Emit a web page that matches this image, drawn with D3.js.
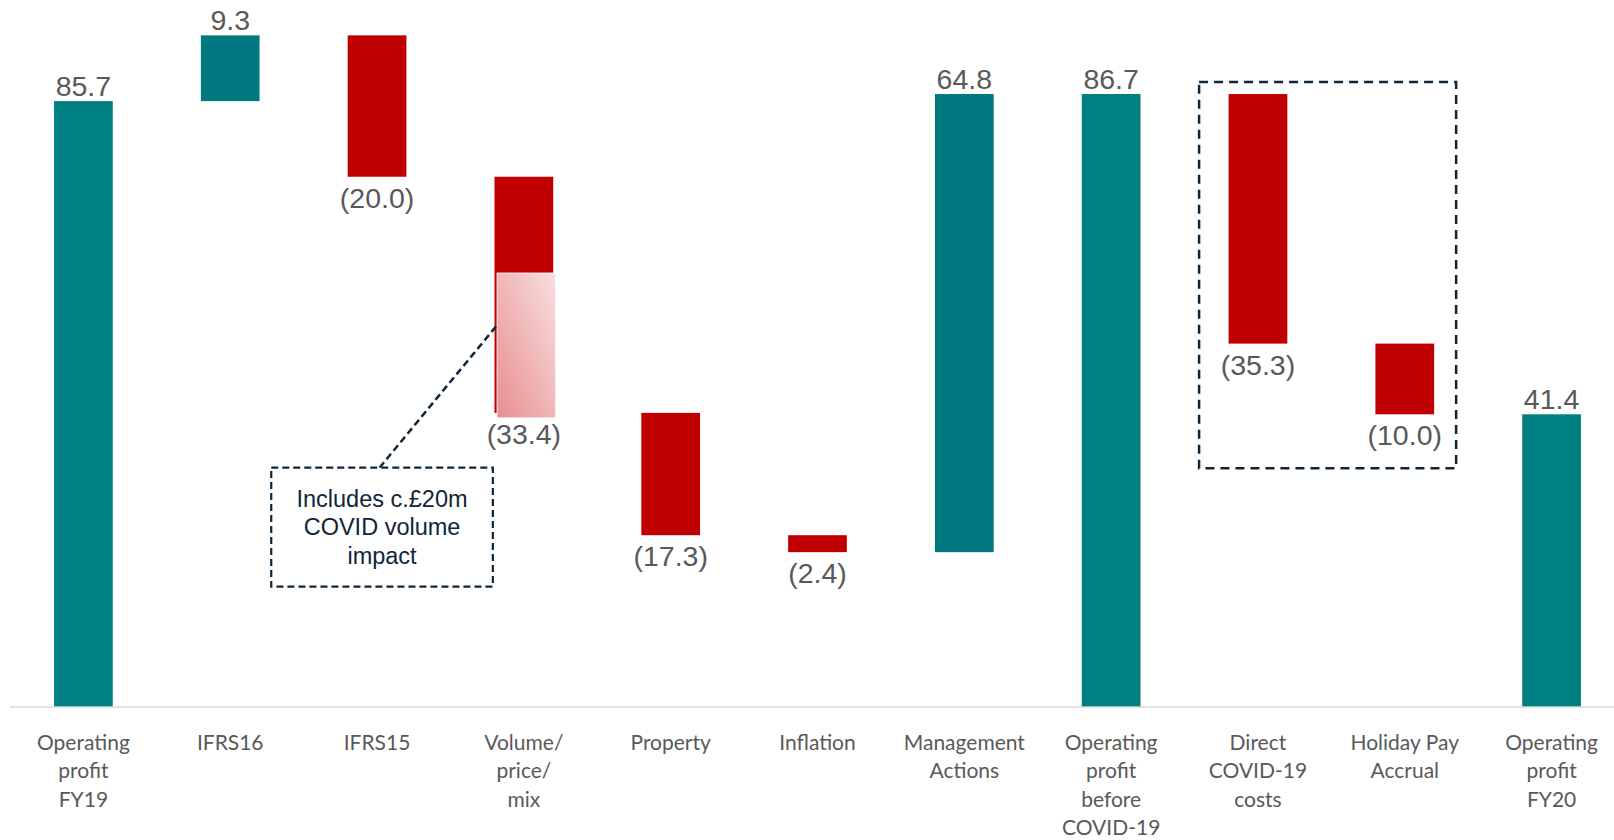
<!DOCTYPE html>
<html>
<head>
<meta charset="utf-8">
<script src="https://cdn.jsdelivr.net/npm/d3@7"></script>
<style>
  body { margin: 0; background: #ffffff; }
  svg { display: block; }
</style>
</head>
<body>
<script>

// bridge data
var categories = ["opFY19", "ifrs16", "ifrs15", "volume", "property", "inflation",
                  "mgmt", "opBefore", "directCovid", "holidayPay", "opFY20"];
var labelLines = [
  ["Operating", "profit", "FY19"],
  ["IFRS16"],
  ["IFRS15"],
  ["Volume/", "price/", "mix"],
  ["Property"],
  ["Inflation"],
  ["Management", "Actions"],
  ["Operating", "profit", "before", "COVID-19"],
  ["Direct", "COVID-19", "costs"],
  ["Holiday Pay", "Accrual"],
  ["Operating", "profit", "FY20"]
];
var values = [85.7, 9.3, -20.0, -33.4, -17.3, -2.4, 64.8, 86.7, -35.3, -10.0, 41.4];
var isTotal = [true, false, false, false, false, false, false, true, false, false, true];
var covidVolume = 20;          // c.£20m shaded part of volume/price/mix
var noteLines = ["Includes c.\u00a320m", "COVID volume", "impact"];
var covidGroup = ["directCovid", "holidayPay"];

var outerWidth = 1614,
    outerHeight = 840,
    axisY = 707;

var teal = "#008080",
    tealUp = "#007a80",
    red = "#c00000",
    labelGrey = "#595959",
    navy = "#0f2538";

window.onload = function() {
  var bars = makeBars(values, isTotal)
  var scales = makeScales()
  drawChart(bars, scales[0], scales[1])
};

function makeBars(vals, totals) {
  var out = []
  var running = 0
  for (var i = 0; i < vals.length; i++) {
    var start, end
    if (totals[i]) {
      start = 0
      end = vals[i]
      running = vals[i]
    } else {
      start = running
      end = running + vals[i]
      running = end
    }
    out.push({key: categories[i], value: vals[i], total: totals[i],
              lo: Math.min(start, end), hi: Math.max(start, end), lines: labelLines[i]})
  }
  return out
}

function makeScales() {
  var xScale = d3.scaleBand()
      .domain(categories)
      .range([10, 1625])
      .paddingInner(0.6)
      .paddingOuter(0.3);

  var yScale = d3.scaleLinear()
      .domain([0, 100])
      .range([axisY, 0]);

  return [xScale, yScale]
}

function fmt(v) {
  var s = d3.format(".1f")(Math.abs(v))
  return v < 0 ? "(" + s + ")" : s
}

function drawChart(bars, xScale, yScale) {
  var svg = d3.select("body").append("svg")
      .attr("width", outerWidth)
      .attr("height", outerHeight);

  var defs = svg.append("defs")
  var grad = defs.append("linearGradient")
      .attr("id", "covidFade")
      .attr("x1", "1").attr("y1", "0")
      .attr("x2", "0").attr("y2", "1");
  grad.append("stop").attr("offset", "0%").attr("stop-color", "#f7dfe0");
  grad.append("stop").attr("offset", "100%").attr("stop-color", "#e98e8f");

  // bars
  svg.selectAll("rect.bar")
      .data(bars)
      .enter()
      .append("rect")
      .attr("class", "bar")
      .attr("x", function(d) { return xScale(d.key) })
      .attr("width", xScale.bandwidth())
      .attr("y", function(d) { return yScale(d.hi) })
      .attr("height", function(d) { return yScale(d.lo) - yScale(d.hi) })
      .style("fill", function(d) {
        if (d.total) return teal
        return d.value > 0 ? tealUp : red
      });

  // shaded covid volume part of the volume bar
  var vol = bars[3]
  svg.append("rect")
      .attr("x", xScale("volume") + 2.5)
      .attr("y", yScale(vol.lo + covidVolume) + 1.5)
      .attr("width", xScale.bandwidth())
      .attr("height", yScale(vol.lo) - yScale(vol.lo + covidVolume) + 3.5)
      .style("fill", "url(#covidFade)")
      .style("stroke", "#ffffff")
      .style("stroke-width", 0.8);

  // axis line
  svg.append("line")
      .attr("x1", 10).attr("x2", outerWidth)
      .attr("y1", axisY).attr("y2", axisY)
      .style("stroke", "#d9d9d9")
      .style("stroke-width", 1.5);

  // value labels
  svg.selectAll("text.val")
      .data(bars)
      .enter()
      .append("text")
      .attr("class", "val")
      .attr("x", function(d) { return xScale(d.key) + xScale.bandwidth() / 2 })
      .attr("y", function(d) {
        return d.value > 0 ? yScale(d.hi) - 5 : yScale(d.lo) + 31
      })
      .style("text-anchor", "middle")
      .style("font-family", "'Liberation Sans', Arial, sans-serif")
      .style("font-size", "28.5px")
      .style("fill", labelGrey)
      .text(function(d) { return fmt(d.value) });

  // category labels
  var cat = svg.selectAll("text.cat")
      .data(bars)
      .enter()
      .append("text")
      .attr("class", "cat")
      .attr("x", function(d) { return xScale(d.key) + xScale.bandwidth() / 2 })
      .attr("y", axisY + 43)
      .style("text-anchor", "middle")
      .style("font-family", "Lato, 'Open Sans', sans-serif")
      .style("font-size", "21px")
      .style("fill", labelGrey);

  cat.selectAll("tspan")
      .data(function(d) { return d.lines })
      .enter()
      .append("tspan")
      .attr("x", function() { return d3.select(this.parentNode).attr("x") })
      .attr("dy", function(d, i) { return i == 0 ? 0 : 28.4 })
      .text(function(d) { return d });

  // dashed box around the covid cost bars
  var g0 = xScale(covidGroup[0]),
      g1 = xScale(covidGroup[1]) + xScale.bandwidth();
  svg.append("rect")
      .attr("x", g0 - 29.5)
      .attr("y", yScale(bars[7].hi) - 12)
      .attr("width", g1 + 22 - (g0 - 29.5))
      .attr("height", yScale(bars[9].lo) + 54 - (yScale(bars[7].hi) - 12))
      .style("fill", "none")
      .style("stroke", navy)
      .style("stroke-width", 2.5)
      .style("stroke-dasharray", "9,6");

  // note box with leader line
  var noteCx = xScale("ifrs15") + xScale.bandwidth() / 2 + 5,
      noteTop = 467.7,
      noteW = 221.6,
      noteH = 119;
  svg.append("line")
      .attr("x1", noteCx - 2.5).attr("y1", noteTop)
      .attr("x2", xScale("volume") + 2.5)
      .attr("y2", yScale(vol.lo + covidVolume * 0.62))
      .style("stroke", navy)
      .style("stroke-width", 2.5)
      .style("stroke-dasharray", "7,4");

  svg.append("rect")
      .attr("x", noteCx - noteW / 2)
      .attr("y", noteTop)
      .attr("width", noteW)
      .attr("height", noteH)
      .style("fill", "#ffffff")
      .style("stroke", navy)
      .style("stroke-width", 2.2)
      .style("stroke-dasharray", "7,4");

  var note = svg.append("text")
      .attr("x", noteCx)
      .attr("y", noteTop + 39)
      .style("text-anchor", "middle")
      .style("font-family", "'Liberation Sans', Arial, sans-serif")
      .style("font-size", "23.5px")
      .style("fill", navy);
  note.selectAll("tspan")
      .data(noteLines)
      .enter()
      .append("tspan")
      .attr("x", noteCx)
      .attr("dy", function(d, i) { return i == 0 ? 0 : 28.5 })
      .text(function(d) { return d });
}
</script>
</body>
</html>
